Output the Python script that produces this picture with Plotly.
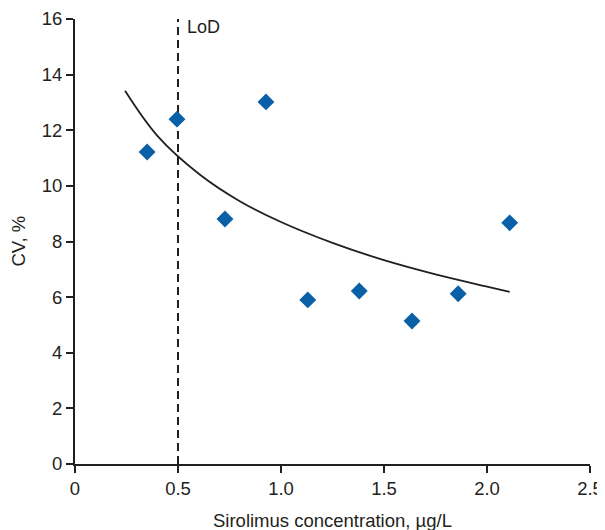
import plotly.graph_objects as go

# Data points
conc = [0.35, 0.495, 0.728, 0.927, 1.13, 1.38, 1.636, 1.86, 2.11]
cv = [11.22, 12.4, 8.81, 13.02, 5.9, 6.22, 5.14, 6.12, 8.67]

# Trend curve
curve_x = [0.243, 0.4, 0.607, 0.8, 1.0, 1.25, 1.5, 1.75, 2.0, 2.11]
curve_y = [13.42, 11.8, 10.4, 9.45, 8.7, 7.95, 7.33, 6.82, 6.38, 6.19]

lod_x = 0.5
x_ticks = [0, 0.5, 1.0, 1.5, 2.0, 2.5]
x_tick_text = ["0", "0.5", "1.0", "1.5", "2.0", "2.5"]
y_ticks = [0, 2, 4, 6, 8, 10, 12, 14, 16]

font_family = "Liberation Sans, Arial, sans-serif"
text_color = "#231f20"

# page body has an 8px default margin; size the figure to fit the window
W, H = 597, 522
ML, MR, MT, MB = 67, 15, 11, 66
PW, PH = W - ML - MR, H - MT - MB

fig = go.Figure()

fig.add_trace(go.Scatter(
    x=[lod_x, lod_x], y=[0, 16], mode="lines",
    line=dict(color=text_color, width=2, dash="8px,5px"),
    hoverinfo="skip", showlegend=False))

fig.add_trace(go.Scatter(
    x=curve_x, y=curve_y, mode="lines",
    line=dict(color=text_color, width=1.8, shape="spline"),
    showlegend=False))

fig.add_trace(go.Scatter(
    x=conc, y=cv, mode="markers",
    marker=dict(symbol="diamond", size=13, color="#0a60a6"),
    showlegend=False))

fig.add_annotation(x=lod_x, y=16, xref="x", yref="y", text="LoD",
                   showarrow=False, xanchor="left", yanchor="top",
                   xshift=7, yshift=4,
                   font=dict(size=18, color=text_color, family=font_family))

# axis titles
fig.add_annotation(x=0.5, y=-56 / PH, xref="paper", yref="paper",
                   text="Sirolimus concentration, µg/L", showarrow=False,
                   xanchor="center", yanchor="middle",
                   font=dict(size=18.5, color=text_color, family=font_family))
fig.add_annotation(x=-57 / PW, y=0.5, xref="paper", yref="paper",
                   text="CV, %", showarrow=False, textangle=-90,
                   xanchor="center", yanchor="middle",
                   font=dict(size=18.5, color=text_color, family=font_family))

fig.update_layout(
    width=W, height=H,
    margin=dict(l=ML, r=MR, t=MT, b=MB),
    plot_bgcolor="white", paper_bgcolor="white",
    font=dict(family=font_family, size=18.5, color=text_color),
    xaxis=dict(
        range=[0, 2.5], tickvals=x_ticks, ticktext=x_tick_text,
        automargin=False,
        showgrid=False, zeroline=False, showline=True,
        linecolor=text_color, linewidth=2,
        ticks="outside", ticklen=7, tickwidth=2, tickcolor=text_color,
        tickfont=dict(size=18.5, color=text_color),
    ),
    yaxis=dict(
        range=[0, 16], tickvals=y_ticks,
        automargin=False,
        showgrid=False, zeroline=False, showline=True,
        linecolor=text_color, linewidth=2,
        ticks="outside", ticklen=7, tickwidth=2, tickcolor=text_color,
        tickfont=dict(size=18.5, color=text_color),
    ),
)

fig.write_html("out.html")
